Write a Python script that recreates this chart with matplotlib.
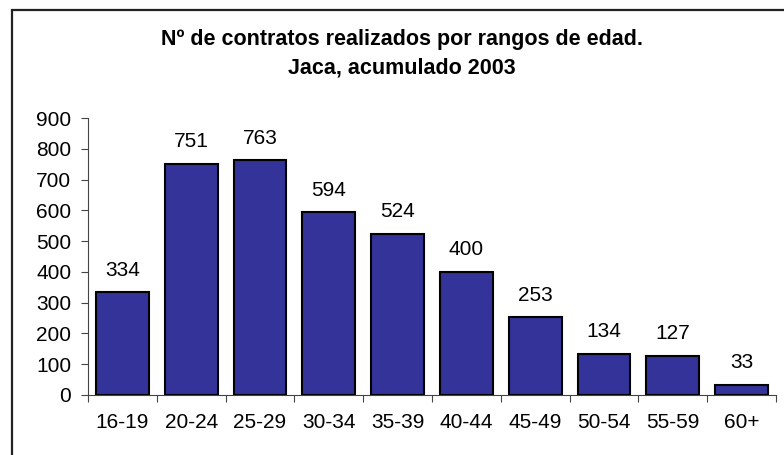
import matplotlib
matplotlib.use("Agg")
import matplotlib.pyplot as plt
from matplotlib.patches import Rectangle

categories = ["16-19", "20-24", "25-29", "30-34", "35-39", "40-44", "45-49", "50-54", "55-59", "60+"]
values = [334, 751, 763, 594, 524, 400, 253, 134, 127, 33]
yticks = [0, 100, 200, 300, 400, 500, 600, 700, 800, 900]
title = "Nº de contratos realizados por rangos de edad.\nJaca, acumulado 2003"

plt.rcParams['font.family'] = ['Liberation Sans', 'DejaVu Sans']

W, H = 784, 455
fig = plt.figure(figsize=(W / 100, H / 100), dpi=100)
fig.patch.set_facecolor("white")

# outer frame (cut off at right and bottom)
fig.patches.append(Rectangle((12 / W, -0.05), 1.2, (H - 10) / H + 0.05,
                             transform=fig.transFigure, fill=False,
                             edgecolor="#222222", linewidth=1.6))

ax = fig.add_axes([88 / W, (H - 395) / H, (776 - 88) / W, (395 - 118) / H])
x = list(range(len(categories)))
bars = ax.bar(x, values, width=0.77, color="#333399", edgecolor="black", linewidth=1.5, zorder=2)
for xi, v in zip(x, values):
    ax.annotate(str(v), (xi, v), xytext=(0, 9), textcoords="offset points",
                ha="center", va="bottom", fontsize=15)

ax.set_xlim(-0.5, len(categories) - 0.5)
ax.set_ylim(0, 900)
ax.set_yticks(yticks)
ax.set_yticklabels([str(t) for t in yticks], fontsize=15)
ax.set_xticks([i + 0.5 for i in range(-1, len(categories))], minor=False)
ax.set_xticklabels([""] * (len(categories) + 1))
ax.set_xticks(x, minor=True)
ax.set_xticklabels(categories, minor=True, fontsize=15)
ax.tick_params(axis="x", which="major", length=5, direction="out", color="#444444")
ax.tick_params(axis="x", which="minor", length=0, pad=13)
ax.tick_params(axis="y", length=5, direction="out", color="#444444", pad=7)
ax.spines["top"].set_visible(False)
ax.spines["right"].set_visible(False)
ax.spines["left"].set_color("#444444")
ax.spines["bottom"].set_color("#444444")

fig.text(402 / W, 1 - 53.5 / H, title, ha="center", va="center", fontsize=15.5,
         fontweight="bold", linespacing=1.5)

fig.savefig("out.png", dpi=100)
